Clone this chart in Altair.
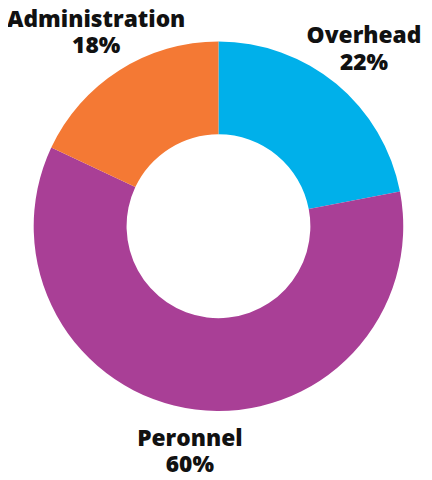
import altair as alt
import pandas as pd

categories = ["Overhead", "Peronnel", "Administration"]
values = [22, 60, 18]
colors = ["#00b0ea", "#a93f96", "#f47934"]

df = pd.DataFrame({
    "category": categories,
    "value": values,
    "idx": list(range(len(categories))),
})
df["label"] = [f"{c}\n{v}%" for c, v in zip(categories, values)]

base = alt.Chart(df).encode(
    theta=alt.Theta("value:Q", stack=True),
    order=alt.Order("idx:Q"),
)

arcs = base.mark_arc(outerRadius=187, innerRadius=93).encode(
    color=alt.Color("category:N",
                    scale=alt.Scale(domain=categories, range=colors),
                    legend=None)
)

labels = base.mark_text(
    radius=231, font="Open Sans", fontWeight=800, fontSize=23, dy=-14,
    lineBreak="\n", lineHeight=27, align="center", baseline="middle",
    color="#111111"
).encode(text="label:N")

chart = alt.layer(arcs, labels).properties(
    width=416, height=416,
    padding={"left": 5, "top": 10, "right": 0, "bottom": 50},
    autosize=alt.AutoSizeParams(type="none"),
).configure_view(stroke=None)

chart.save("out.html", embed_options={"renderer": "svg", "actions": False})
